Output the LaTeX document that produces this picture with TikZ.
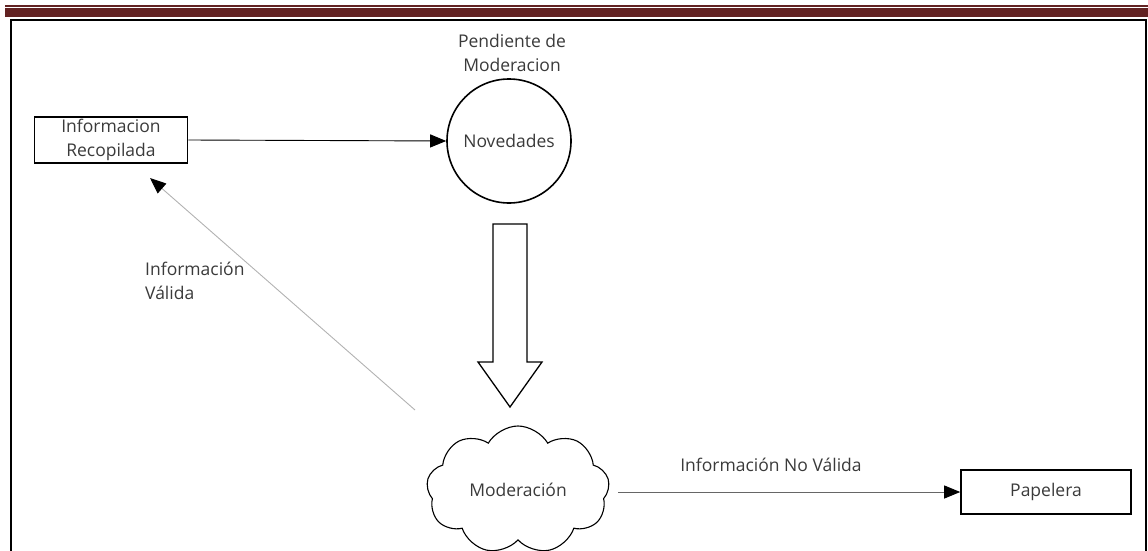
\documentclass[tikz,border=0pt]{standalone}
\usepackage{fontspec}
\setmainfont{Open Sans}
\usetikzlibrary{arrows.meta,shapes.symbols}
\definecolor{barred}{HTML}{622222}
\definecolor{txt}{HTML}{3A3A3A}
\begin{document}
\begin{tikzpicture}[x=1pt,y=-1pt,
  lbl/.style={font=\fontsize{17.5}{24}\selectfont, text=txt, align=center, inner sep=0pt},
  boxnode/.style={draw=black, line width=1.6pt, minimum width=#1, minimum height=46, inner sep=0pt},
  flow/.style={line width=0.9pt, -{Triangle[length=16pt,width=13pt,color=black,fill=black]}},
]
\useasboundingbox (0,0) rectangle (1148,551);
% header bars
\fill[barred] (5,5) rectangle (1148,6.8);
\fill[barred] (5,8.2) rectangle (1148,17);
% page frame
\draw[line width=1.8pt] (11,551) -- (11,20) -- (1146,20) -- (1146,551);

% nodes
\node[boxnode=153, lbl] (info) at (111,140) {Informacion\\Recopilada};
\node[draw, circle, line width=1.6pt, minimum size=124, inner sep=0pt, lbl] (nov) at (509,141) {Novedades};
\node[lbl, anchor=south] (pend) at (512,72) {Pendiente de\\Moderacion};
\node[cloud, cloud puffs=9, cloud puff arc=120, aspect=1.4, draw, line width=1.1pt,
      minimum width=183, minimum height=128, inner sep=0pt, lbl] (mod) at (518,490) {Moderación};
\node[boxnode=170, minimum height=44, lbl] (pap) at (1046,492) {Papelera};

% block arrow from Novedades down to Moderación
\draw[line width=1.3pt, line join=miter]
  (493,224) -- (527,224) -- (527,362) -- (542,362) -- (510,407) -- (478,362) -- (493,362) -- cycle;

% connectors
\draw[flow] (info.east) -- (nov.west);
\coordinate (vstart) at (415,410);
\draw[flow, draw=black!30] (vstart) -- (150,178);
\coordinate (nvstart) at (618,492);
\draw[flow, draw=black!60] (nvstart) -- (pap.west);
\node[lbl, align=left, anchor=north west] (valida) at (145,262) {Información\\Válida};
\node[lbl] (novalida) at (771,465) {Información No Válida};
\end{tikzpicture}
\end{document}
